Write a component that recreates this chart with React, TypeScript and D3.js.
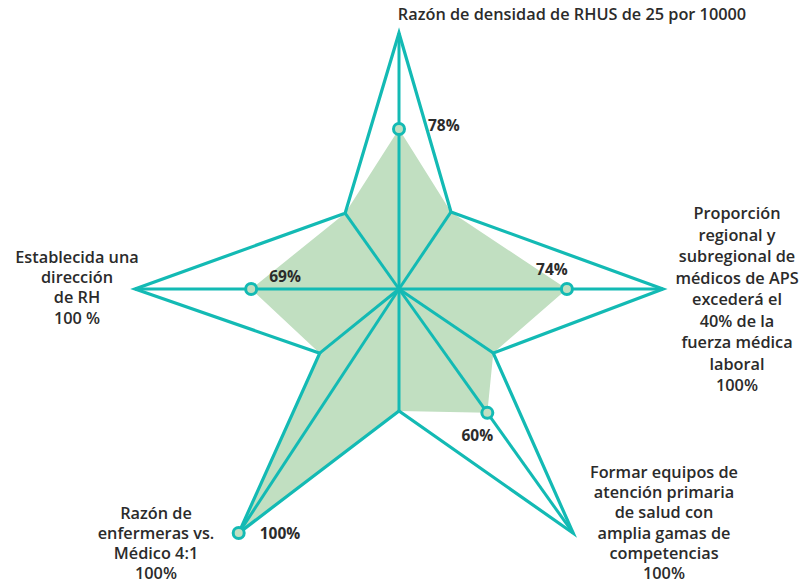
import React from "react";
import * as d3 from "d3";

// ---- data ----
const axisLabels: string[][] = [
  ["Razón de densidad de RHUS de 25 por 10000"],
  ["Proporción", "regional y", "subregional de", "médicos de APS", "excederá el", "40% de la", "fuerza médica", "laboral", "100%"],
  ["Formar equipos de", "atención primaria", "de salud con", "amplia gamas de", "competencias", "100%"],
  ["Razón de", "enfermeras vs.", "Médico 4:1", "100%"],
  ["Establecida una", "dirección", "de RH", "100 %"],
];
const valueLabels = ["78%", "74%", "60%", "100%", "69%"];
// plotted position of each marker, as share (%) of its axis length
const plottedShare = [62.5, 63.6, 50.7, 100, 56];

// ---- layout ----
const W = 810;
const H = 586;
const CX = 399;
const CY = 289;
const outerAngles = [0, 90, 144.5, 213.3, 270];
const outerRadii = [256, 264, 300, 292, 264];
const innerAngles = [34, 124.2, 180, 231, 324.6];
const innerRadii = [93, 114, 122, 102, 93];
const valueOffsets: [number, number, string][] = [
  [29, -4, "start"],
  [-15, -20, "middle"],
  [-10, 22, "middle"],
  [21, 0, "start"],
  [18, -13, "start"],
];
const labelPos: { x: number; y: number; lh: number }[] = [
  { x: 572, y: 14, lh: 20 },
  { x: 737, y: 213, lh: 21.5 },
  { x: 664, y: 472, lh: 20.2 },
  { x: 156, y: 513, lh: 20 },
  { x: 77, y: 257, lh: 20.2 },
];

const TEAL = "#13bab4";
const FILL = "#c1dfc1";
const TEXT = "#2b2b2b";
const FONT = "'Open Sans', 'Noto Sans', sans-serif";

const rad = (deg: number) => (deg * Math.PI) / 180;

export default function App() {
  const scales = outerRadii.map((r) => d3.scaleLinear().domain([0, 100]).range([0, r]));
  const outerPts = outerAngles.map((a, i) => d3.pointRadial(rad(a), outerRadii[i]));
  const innerPts = innerAngles.map((a, i) => d3.pointRadial(rad(a), innerRadii[i]));
  const markerPts = outerAngles.map((a, i) => d3.pointRadial(rad(a), scales[i](plottedShare[i])));

  const starPts: [number, number][] = [];
  const fillPts: [number, number][] = [];
  for (let i = 0; i < 5; i++) {
    starPts.push(outerPts[i] as [number, number], innerPts[i] as [number, number]);
    fillPts.push(markerPts[i] as [number, number], innerPts[i] as [number, number]);
  }
  const line = d3.line().curve(d3.curveLinearClosed);

  return (
    <svg
      width={W}
      height={H}
      style={{ position: "fixed", left: 0, top: 0, background: "#fff" }}
      fontFamily={FONT}
    >
      <g transform={`translate(${CX},${CY})`}>
        <path d={line(fillPts) || ""} fill={FILL} stroke="none" />
        {[...outerPts, ...innerPts].map((p, i) => (
          <line key={"s" + i} x1={0} y1={0} x2={p[0]} y2={p[1]} stroke={TEAL} strokeWidth={3} />
        ))}
        <path
          d={line(starPts) || ""}
          fill="none"
          stroke={TEAL}
          strokeWidth={3.2}
          strokeLinejoin="miter"
          strokeMiterlimit={20}
        />
        {markerPts.map((p, i) => (
          <circle key={"m" + i} cx={p[0]} cy={p[1]} r={5.5} fill={FILL} stroke={TEAL} strokeWidth={3} />
        ))}
        {markerPts.map((p, i) => (
          <text
            key={"v" + i}
            x={p[0] + valueOffsets[i][0]}
            y={p[1] + valueOffsets[i][1]}
            textAnchor={valueOffsets[i][2] as any}
            dominantBaseline="central"
            fontSize={15.5}
            fontWeight={700}
            fill={TEXT}
          >
            {valueLabels[i]}
          </text>
        ))}
      </g>
      {axisLabels.map((lines, i) => (
        <text
          key={"l" + i}
          textAnchor="middle"
          fontSize={16.3}
          fontWeight={600}
          fill={TEXT}
          dominantBaseline="central"
        >
          {lines.map((t, j) => (
            <tspan key={j} x={labelPos[i].x} y={labelPos[i].y + j * labelPos[i].lh}>
              {t}
            </tspan>
          ))}
        </text>
      ))}
    </svg>
  );
}
